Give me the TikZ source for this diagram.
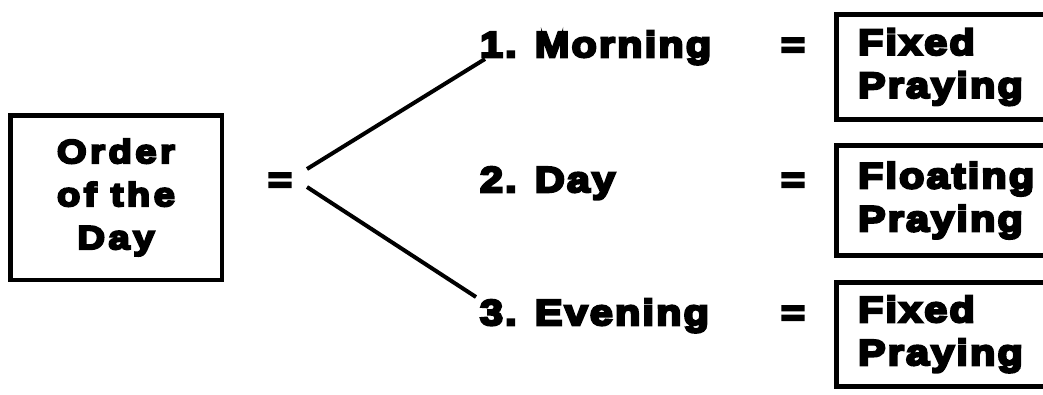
\documentclass[tikz,border=0pt]{standalone}
\usepackage{fontspec}
\setmainfont{Liberation Sans}[LetterSpace=6,FakeBold=7,FakeStretch=1.15]
\begin{document}
\begin{tikzpicture}[x=1pt,y=-1pt,
  lbl/.style={inner sep=0pt,outer sep=0pt,font=\bfseries\fontsize{36}{43}\selectfont},
  eqs/.style={inner sep=0pt,outer sep=0pt,font=\bfseries\fontsize{36}{43}\selectfont,anchor=base},
  rbox/.style={draw,line width=5pt,outer sep=0pt,inner xsep=21.5pt,inner ysep=0pt,
    anchor=north west,minimum width=240pt,text width=197pt,align=left,
    font=\bfseries\fontsize{36}{43}\selectfont},
  lbox/.style={draw,line width=4.5pt,outer sep=0pt,inner sep=0pt,
    minimum width=211.5pt,minimum height=164.5pt,align=center,
    font={\bfseries\fontsize{33}{43}\selectfont\addfontfeature{LetterSpace=11}}},
  conn/.style={line width=4pt}]
\useasboundingbox (0,0) rectangle (1043,394);
\clip (0,0) rectangle (1043,394);
\node[lbox] (order) at (116,197.5) {Order\\of the\\Day};
\node[eqs] (eq0) at (280,192) {=};
\coordinate (j1) at (307,169);
\coordinate (j2) at (307,187);
\node[lbl,anchor=base west] (m1) at (480,57) {1. Morning};
\node[lbl,anchor=base west] (m2) at (480,192) {2. Day};
\node[lbl,anchor=base west] (m3) at (480,325) {3. Evening};
\node[eqs] (eq1) at (793,57) {=};
\node[eqs] (eq2) at (793,192) {=};
\node[eqs] (eq3) at (793,325) {=};
\node[rbox,minimum height=105pt] (b1) at (836.5,14.5) {Fixed\\Praying};
\node[rbox,minimum height=110pt] (b2) at (836.5,145.5) {Floating\\Praying};
\node[rbox,minimum height=104.5pt] (b3) at (836.5,282) {Fixed\\Praying};
\draw[conn] (j1) -- ([shift={(5,2)}]m1.base west);
\draw[conn] (j2) -- ([shift={(-4,-28)}]m3.base west);
\end{tikzpicture}
\end{document}
